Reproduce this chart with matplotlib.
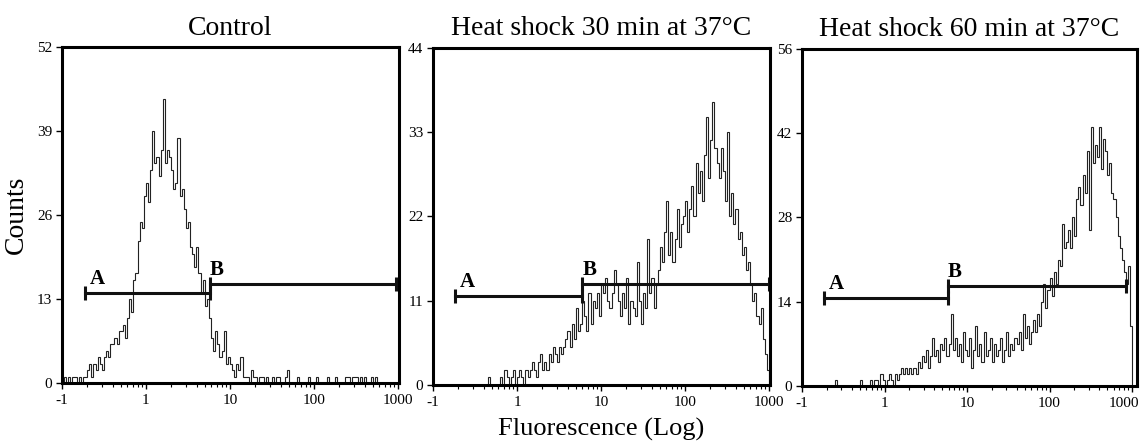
import numpy as np
import matplotlib.pyplot as plt
import matplotlib.transforms as mtransforms

plt.rcParams['font.family'] = ['Liberation Serif', 'DejaVu Serif']

# channel counts, 40 channels per decade from 10^-1 to 10^3
control = [0, 1, 0, 1, 0, 1, 1, 0, 1, 0, 1, 1,
           2, 3, 1, 3, 2, 4, 3, 2,
           4, 5, 4, 6, 6, 7, 6, 8, 8, 9, 7, 10,
           13, 11, 16, 17, 22, 25, 24, 29, 31, 28, 33, 39,
           34, 35, 32, 36, 44, 34, 36, 35, 33, 30, 31, 38,
           29, 30, 27, 24, 25, 21, 20, 18, 21, 17, 14, 16,
           12, 13, 10, 7, 5, 8, 6, 4, 5, 8, 3, 4,
           3, 2, 1, 3, 2, 4, 1, 1, 1, 0, 2, 1,
           1, 0, 1, 1, 0, 1, 0, 0, 1, 0, 1, 1, 0, 0, 1, 2, 0, 0, 0, 0,
           1, 0, 0, 0, 0, 1, 0, 0, 0, 1, 0, 0, 0, 0, 1, 0, 0, 0, 1, 0,
           0, 0, 0, 1, 1, 0, 1, 1, 1, 0, 1, 0, 1, 0, 0, 1, 0, 1, 0, 0,
           0, 0, 0, 0, 0, 0, 0, 0]

heat30 = [0] * 25 + [0, 1, 0, 0, 0, 0, 0,
          1, 0, 2, 1, 0, 1, 2, 0, 1, 2, 1, 0, 2, 1, 2,
          3, 2, 1, 3, 4, 2, 3, 2,
          4, 3, 5, 4, 3, 5, 4, 5,
          6, 7, 5, 8, 6, 10, 7, 8,
          11, 9, 7, 12, 8, 11, 10, 12,
          9, 13, 12, 14, 11, 10, 12, 15,
          13, 11, 9, 12, 10, 14, 8, 11,
          10, 9, 16, 11, 8, 12, 10, 19,
          12, 14, 10, 13, 15, 18, 16, 20,
          24, 17, 20, 16, 19, 23, 18, 21,
          22, 24, 20, 23, 26, 22, 29, 25,
          28, 24, 30, 35, 27, 32, 37, 31,
          29, 27, 31, 28, 24, 33, 22, 25,
          21, 23, 19, 20, 17, 18, 15, 16,
          13, 11, 12, 9, 8, 10, 6, 4, 2]

heat60 = [0] * 16 + [1] + [0] * 11 + [1, 0, 0, 0, 0,
          1, 0, 1, 1, 0, 2, 1, 0, 1, 2, 1, 0, 2, 1,
          2, 3, 2, 3, 2, 3, 2, 3, 2,
          4, 3, 5, 4, 6, 3, 5, 8,
          5, 6, 4, 7, 6, 8, 5, 7,
          12, 6, 8, 5, 7, 4, 9, 6,
          5, 8, 3, 6, 10, 5, 7, 4,
          9, 5, 6, 8, 4, 7, 5, 6,
          8, 4, 6, 9, 5, 7, 6, 8,
          7, 9, 6, 12, 8, 10, 7, 9,
          11, 9, 12, 10, 14, 17, 13, 16,
          18, 15, 19, 17, 21, 20, 27, 23,
          24, 26, 23, 28, 25, 31, 33, 30,
          35, 32, 39, 26, 43, 37, 40, 38,
          43, 36, 41, 39, 35, 37, 32, 31,
          28, 25, 23, 21, 19, 17, 20, 10]

titles = ['Control', 'Heat shock 30 min at 37°C', 'Heat shock 60 min at 37°C']
ymax = [52, 44, 56]
# gates: (start, end, level)
gate_a = [(0.188, 5.8, 13.9), (0.184, 6.0, 11.6), (0.183, 5.85, 14.6)]
gate_b = [(5.8, 950, 15.3), (6.0, 1000, 13.2), (5.85, 855, 16.6)]

xticks = [0.1, 1, 10, 100, 1000]
xticklabels = ['-1', '1', '10', '100', '1000']
xmax = [1030, 1030, 1150]

edges = np.logspace(-1, 3, 161)

fig = plt.figure(figsize=(11.41, 4.48), dpi=100)
boxes = [[0.0543, 0.145, 0.2954, 0.750],
         [0.3795, 0.1406, 0.2955, 0.7524],
         [0.7030, 0.1384, 0.2935, 0.7523]]

for k, counts in enumerate([control, heat30, heat60]):
    ax = fig.add_axes(boxes[k])
    ax.stairs(counts, edges, color='#222222', lw=0.8, baseline=0)
    ax.set_xscale('log')
    ax.set_xlim(0.1, xmax[k])
    ax.set_ylim(0, ymax[k])
    ax.set_xticks(xticks)
    ax.set_xticklabels(xticklabels)
    ax.set_yticks(np.linspace(0, ymax[k], 5))
    ax.set_yticklabels([str(int(v)) for v in np.linspace(0, ymax[k], 5)])
    ax.tick_params(axis='both', which='major', labelsize=11, length=4, width=1, pad=3, direction='out')
    ax.tick_params(axis='x', which='minor', length=3, width=0.8)
    ax.tick_params(axis='x', pad=4)
    for s in ax.spines.values():
        s.set_linewidth(2.2)
    ax.set_title(titles[k], fontsize=20, pad=9)

    for (x1, x2, y), lab, dx in [(gate_a[k], 'A', 9), (gate_b[k], 'B', 5)]:
        ax.plot([x1, x2], [y, y], color='#111111', lw=2.2, marker='|', ms=10, mew=2.2)
        ax.annotate(lab, (x1, y), xytext=(dx, 3), textcoords='offset points',
                    ha='center', va='bottom', fontsize=15, fontweight='bold')

    if k == 0:
        ax.set_ylabel('Counts', fontsize=20, labelpad=6)
    if k == 1:
        ax.set_xlabel('Fluorescence (Log)', fontsize=19, labelpad=6)
    if k == 2:
        # last label sits at the figure edge, keep it inside
        last = ax.get_xticklabels()[-1]
        last.set_transform(last.get_transform() +
                           mtransforms.ScaledTranslation(-6 / 72, 0, fig.dpi_scale_trans))

fig.savefig('out.png', dpi=100)
